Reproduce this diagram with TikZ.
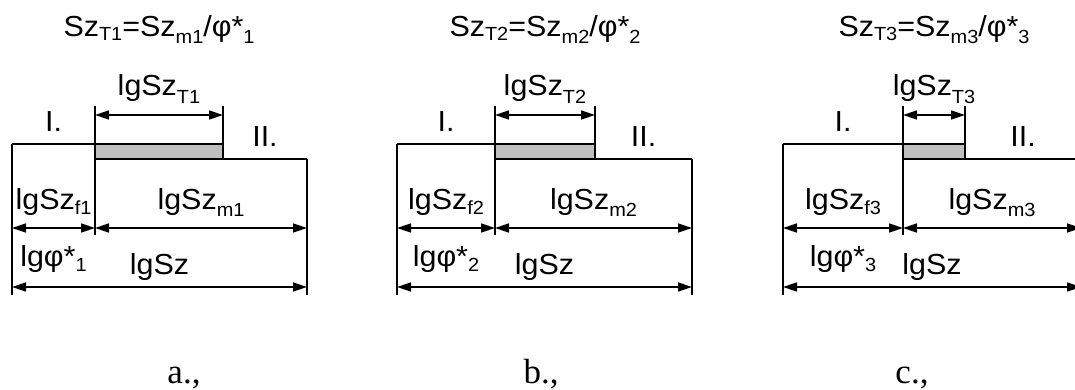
\documentclass[tikz,border=0pt]{standalone}
\usepackage{fontspec}
\setmainfont{Liberation Sans}[FakeStretch=1.05]
\newfontfamily\serifface{Liberation Serif}
\usetikzlibrary{arrows.meta,calc}
\newcommand\sbs[2][5]{\raisebox{-#1pt}{\fontsize{19}{19}\selectfont #2}}
\newcommand\drawpanel[6]{%
  \coordinate (#1L) at (#2,144);
  \coordinate (#1Lb) at (#2,295);
  \coordinate (#1Mt) at (#3,106);
  \coordinate (#1Mu) at (#3,144);
  \coordinate (#1Ml) at (#3,159);
  \coordinate (#1Mb) at (#3,235);
  \coordinate (#1Gt) at (#4,106);
  \coordinate (#1G) at (#4,144);
  \coordinate (#1Gl) at (#4,159);
  \coordinate (#1R) at (#5,159);
  \coordinate (#1Rb) at (#5,295);
  \coordinate (#1a1) at (#3,115);
  \coordinate (#1a2) at (#4,115);
  \coordinate (#1b1) at (#2,228);
  \coordinate (#1b2) at (#3,228);
  \coordinate (#1b3) at (#5,228);
  \coordinate (#1c1) at (#2,287);
  \coordinate (#1c2) at (#5,287);
  \fill[fillgray] (#1Mu) rectangle (#1Gl);
  \draw[light] (#1Gt) -- (#1Gl);
  \draw[light] (#1Mt) -- (#1Mb);
  \draw[light] (#1L) -- (#1Lb);
  \draw[light] (#1R) -- (#1Rb);
  \draw[heavy] (#1L) -- (#1G);
  \draw[heavy] (#1Ml) -- (#1R);
  \draw[dim] (#1a1) -- (#1a2);
  \draw[dim] (#1b1) -- (#1b2);
  \draw[dim] (#1b2) -- (#1b3);
  \draw[dim] (#1c1) -- (#1c2);
  \node[lab] (#1title) at ($(#3,37)!.5!(#4,37)$) {Sz\sbs[4]{T#6}=Sz\sbs[7]{m#6}/φ*\sbs[7]{#6}};
  \node[lab] (#1one) at ($(#2,132)!.5!(#3,132)$) {I.};
  \node[lab] (#1two) at ($(#4,147)!.5!(#5,147)$) {II.};
  \node[lab] (#1lT) at ($(#3,96)!.5!(#4,96)$) {lgSz\sbs[8]{T#6}};
  \node[lab] (#1lf) at ($(#2,209)!.5!(#3,209)$) {lgSz\sbs[5]{f#6}};
  \node[lab] (#1lm) at ($(#3,209)!.5!(#5,209)$) {lgSz\sbs[7]{m#6}};
  \node[lab] (#1lp) at ($(#2,266)!.5!(#3,266)$) {lgφ*\sbs[5]{#6}};
  \node[lab] (#1ls) at ($(#2,274)!.5!(#5,274)$) {lgSz};
}
\begin{document}
\begin{tikzpicture}[x=1pt,y=-1pt,
  heavy/.style={line width=2.8pt},
  light/.style={line width=1.6pt},
  dim/.style={light,{Triangle[length=14pt,width=9pt]}-{Triangle[length=14pt,width=9pt]}},
  lab/.style={font=\fontsize{29}{29}\selectfont,inner sep=0pt,anchor=base},
  capstyle/.style={font=\serifface\fontsize{35}{35}\selectfont,inner sep=0pt,anchor=base}]
\colorlet{fillgray}{black!25}
\clip (0,0) rectangle (1075,390);
\fill[white] (0,0) rectangle (1075,390);
\drawpanel{a}{12}{95}{223}{307}{1}
\drawpanel{b}{397}{495}{595}{692}{2}
\drawpanel{c}{783}{903}{965}{1081}{3}
\node[capstyle] (capa) at (184,383) {a.,};
\node[capstyle] (capb) at (541,383) {b.,};
\node[capstyle] (capc) at (912,383) {c.,};
\end{tikzpicture}
\end{document}
